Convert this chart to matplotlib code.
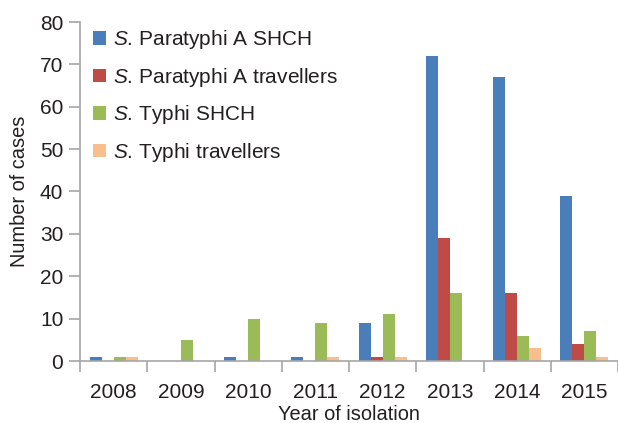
import matplotlib
matplotlib.use("Agg")
import matplotlib.pyplot as plt
import numpy as np

years = ["2008", "2009", "2010", "2011", "2012", "2013", "2014", "2015"]
para_shch = [1, 0, 1, 1, 9, 72, 67, 39]
para_trav = [0, 0, 0, 0, 1, 29, 16, 4]
typhi_shch = [1, 5, 10, 9, 11, 16, 6, 7]
typhi_trav = [1, 0, 0, 1, 1, 0, 3, 1]
labels = [r"$\it{S}$. Paratyphi A SHCH", r"$\it{S}$. Paratyphi A travellers",
          r"$\it{S}$. Typhi SHCH", r"$\it{S}$. Typhi travellers"]
colors = ["#4a7ebb", "#be4b48", "#9bbb59", "#f9be8e"]

plt.rcParams['font.family'] = ['Liberation Sans', 'DejaVu Sans']
plt.rcParams['mathtext.fontset'] = 'custom'
plt.rcParams['mathtext.it'] = 'Liberation Sans:italic'
plt.rcParams['mathtext.rm'] = 'Liberation Sans'
txt = "#231f20"
spine = "#a6a6a6"

fig = plt.figure(figsize=(6.18, 4.23), dpi=100)
ax = fig.add_axes([80/618, 1-361/423, 538/618, 339/423])

x = np.arange(len(years))
w = 0.178
series = [para_shch, para_trav, typhi_shch, typhi_trav]
for i, (s, c, l) in enumerate(zip(series, colors, labels)):
    ax.bar(x + (i - 1.5) * w, s, w, color=c, label=l, linewidth=0)

ax.set_xlim(-0.5, len(years) - 0.5)
ax.set_ylim(0, 80)
ax.set_yticks(range(0, 81, 10))
ax.set_xticks(x)
ax.set_xticklabels(years)
ax.set_xticks(np.arange(-0.5, len(years), 1), minor=True)
ax.tick_params(axis='x', which='major', length=0, pad=16, labelsize=15, colors=txt)
ax.tick_params(axis='x', which='minor', length=8, width=1.2, color=spine, direction='out')
ax.tick_params(axis='y', length=8, width=1.2, color=spine, labelsize=15, labelcolor=txt, pad=4)
for s in ['top', 'right']:
    ax.spines[s].set_visible(False)
for s in ['left', 'bottom']:
    ax.spines[s].set_color(spine)
    ax.spines[s].set_linewidth(1.2)

ax.set_xlabel("Year of isolation", fontsize=14.4, color=txt, labelpad=2)
ax.set_ylabel("Number of cases", fontsize=14.4, color=txt, labelpad=8)

leg = ax.legend(loc='upper left', bbox_to_anchor=(13/538, 0.982), frameon=False,
                fontsize=15, handlelength=0.62, handleheight=0.62, handletextpad=0.34,
                labelspacing=0.7, borderaxespad=0, borderpad=0)
for t in leg.get_texts():
    t.set_color(txt)

fig.savefig("out.png", dpi=100)
